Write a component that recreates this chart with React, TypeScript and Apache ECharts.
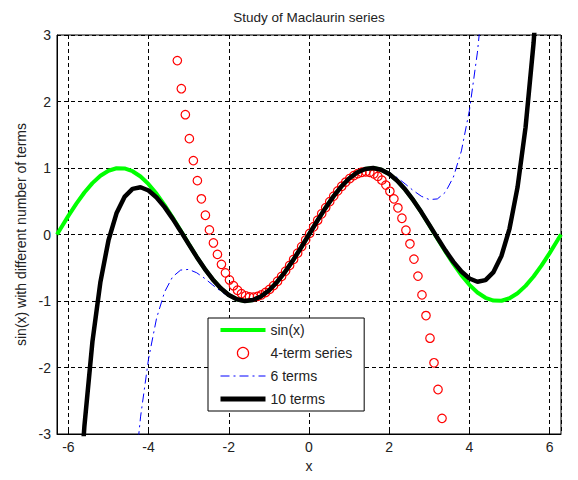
import { useEffect, useRef } from "react";
import * as echarts from "echarts";

const TITLE = "Study of Maclaurin series";
const X_LABEL = "x";
const Y_LABEL = "sin(x) with different number of terms";
const NAMES = ["sin(x)", "4-term series", "6 terms", "10 terms"];

// sin(x)
const xSin = [
  -6.2832, -6.2, -6.0, -5.8, -5.6, -5.4, -5.2, -5.0, -4.8, -4.6, -4.4, -4.2, -4.0, -3.8, -3.6, -3.4,
  -3.2, -3.0, -2.8, -2.6, -2.4, -2.2, -2.0, -1.8, -1.6, -1.4, -1.2, -1.0, -0.8, -0.6, -0.4, -0.2,
  0, 0.2, 0.4, 0.6, 0.8, 1.0, 1.2, 1.4, 1.6, 1.8, 2.0, 2.2, 2.4, 2.6, 2.8, 3.0,
  3.2, 3.4, 3.6, 3.8, 4.0, 4.2, 4.4, 4.6, 4.8, 5.0, 5.2, 5.4, 5.6, 5.8, 6.0, 6.2, 6.2832,
];
const ySin = [
  0, 0.0831, 0.2794, 0.4646, 0.6313, 0.7728, 0.8835, 0.9589, 0.9962, 0.9937, 0.9516, 0.8716, 0.7568, 0.6119, 0.4425, 0.2555,
  0.0584, -0.1411, -0.335, -0.5155, -0.6755, -0.8085, -0.9093, -0.9738, -0.9996, -0.9854, -0.932, -0.8415, -0.7174, -0.5646, -0.3894, -0.1987,
  0, 0.1987, 0.3894, 0.5646, 0.7174, 0.8415, 0.932, 0.9854, 0.9996, 0.9738, 0.9093, 0.8085, 0.6755, 0.5155, 0.335, 0.1411,
  -0.0584, -0.2555, -0.4425, -0.6119, -0.7568, -0.8716, -0.9516, -0.9937, -0.9962, -0.9589, -0.8835, -0.7728, -0.6313, -0.4646, -0.2794, -0.0831, 0,
];

// 4-term series (circles)
const x4 = [
  -3.2832, -3.1832, -3.0832, -2.9832, -2.8832, -2.7832, -2.6832, -2.5832, -2.4832, -2.3832, -2.2832, -2.1832,
  -2.0832, -1.9832, -1.8832, -1.7832, -1.6832, -1.5832, -1.4832, -1.3832, -1.2832, -1.1832, -1.0832, -0.9832,
  -0.8832, -0.7832, -0.6832, -0.5832, -0.4832, -0.3832, -0.2832, -0.1832, -0.0832, 0.0168, 0.1168, 0.2168,
  0.3168, 0.4168, 0.5168, 0.6168, 0.7168, 0.8168, 0.9168, 1.0168, 1.1168, 1.2168, 1.3168, 1.4168,
  1.5168, 1.6168, 1.7168, 1.8168, 1.9168, 2.0168, 2.1168, 2.2168, 2.3168, 2.4168, 2.5168, 2.6168,
  2.7168, 2.8168, 2.9168, 3.0168, 3.1168, 3.2168, 3.3168,
];
const y4 = [
  2.6153, 2.1926, 1.8017, 1.4416, 1.1114, 0.81, 0.5365, 0.2897, 0.0688, -0.1272, -0.2995, -0.4489,
  -0.5764, -0.6832, -0.7701, -0.8382, -0.8884, -0.9218, -0.9394, -0.9421, -0.931, -0.9071, -0.8714, -0.8248,
  -0.7684, -0.7031, -0.6301, -0.5501, -0.4644, -0.3738, -0.2794, -0.1822, -0.0831, 0.0168, 0.1165, 0.2151,
  0.3115, 0.4047, 0.4938, 0.5777, 0.6554, 0.726, 0.7884, 0.8416, 0.8847, 0.9165, 0.9363, 0.9428,
  0.9352, 0.9124, 0.8734, 0.8173, 0.743, 0.6496, 0.536, 0.4012, 0.2442, 0.0641, -0.1402, -0.3697,
  -0.6253, -0.9081, -1.2191, -1.5592, -1.9295, -2.331, -2.7647,
];

// 6 terms (dash-dot)
const x6 = [
  -4.4, -4.2, -4.0, -3.8, -3.6, -3.4, -3.2, -3.0, -2.8, -2.6, -2.4, -2.2, -2.0, -1.8, -1.6,
  -1.4, -1.2, -1.0, -0.8, -0.6, -0.4, -0.2, 0, 0.2, 0.4, 0.6, 0.8, 1.0, 1.2, 1.4,
  1.6, 1.8, 2.0, 2.2, 2.4, 2.6, 2.8, 3.0, 3.2, 3.4, 3.6, 3.8, 4.0, 4.2, 4.4,
];
const y6 = [
  -3.9457, -2.7429, -1.8667, -1.2576, -0.8629, -0.6356, -0.5349, -0.525, -0.5755, -0.6608, -0.7596, -0.8548, -0.9333, -0.9855, -1.0047,
  -0.9875, -0.9327, -0.8417, -0.7174, -0.5646, -0.3894, -0.1987, 0, 0.1987, 0.3894, 0.5646, 0.7174, 0.8417, 0.9327, 0.9875,
  1.0047, 0.9855, 0.9333, 0.8548, 0.7596, 0.6608, 0.5755, 0.525, 0.5349, 0.6356, 0.8629, 1.2576, 1.8667, 2.7429, 3.9457,
];

// 10 terms (thick black)
const x10 = [
  -5.8, -5.6, -5.4, -5.2, -5.0, -4.8, -4.6, -4.4, -4.2, -4.0, -3.8, -3.6, -3.4, -3.2, -3.0,
  -2.8, -2.6, -2.4, -2.2, -2.0, -1.8, -1.6, -1.4, -1.2, -1.0, -0.8, -0.6, -0.4, -0.2, 0,
  0.2, 0.4, 0.6, 0.8, 1.0, 1.2, 1.4, 1.6, 1.8, 2.0, 2.2, 2.4, 2.6, 2.8, 3.0,
  3.2, 3.4, 3.6, 3.8, 4.0, 4.2, 4.4, 4.6, 4.8, 5.0, 5.2, 5.4, 5.6, 5.8,
];
const y10 = [
  -4.6372, -2.8827, -1.613, -0.7114, -0.0896, 0.3191, 0.565, 0.6858, 0.7106, 0.6617, 0.5573, 0.4121, 0.2392, 0.0499, -0.1453,
  -0.337, -0.5164, -0.6758, -0.8086, -0.9093, -0.9739, -0.9996, -0.9855, -0.932, -0.8415, -0.7174, -0.5646, -0.3894, -0.1987, 0,
  0.1987, 0.3894, 0.5646, 0.7174, 0.8415, 0.932, 0.9855, 0.9996, 0.9739, 0.9093, 0.8086, 0.6758, 0.5164, 0.337, 0.1453,
  -0.0499, -0.2392, -0.4121, -0.5573, -0.6617, -0.7106, -0.6858, -0.565, -0.3191, 0.0896, 0.7114, 1.613, 2.8827, 4.6372,
];

const X_MIN = -6.2832;
const X_MAX = 6.2832;
const Y_MIN = -3;
const Y_MAX = 3;

const pairs = (xs: number[], ys: number[]) => xs.map((x, i) => [x, ys[i]]);
const FONT = "'Liberation Sans', Arial, Helvetica, sans-serif";
const TXT = "#222";

export default function App() {
  const ref = useRef<HTMLDivElement>(null);
  useEffect(() => {
    if (!ref.current) return;
    const chart = echarts.init(ref.current, undefined, { renderer: "svg" });
    const intLabel = (v: number) => (Math.abs(v - Math.round(v)) < 1e-6 ? String(Math.round(v)) : "");
    chart.setOption({
      animation: false,
      backgroundColor: "#fff",
      textStyle: { fontFamily: FONT },
      graphic: [
        {
          type: "text",
          x: 309,
          y: 17,
          style: { text: TITLE, fill: TXT, font: `13.5px ${FONT}`, align: "center", verticalAlign: "middle" },
        },
      ],
      grid: { left: 57, top: 35, right: 17, bottom: 46, show: true, borderColor: "#000", borderWidth: 1, backgroundColor: "#fff" },
      xAxis: {
        type: "value",
        min: X_MIN,
        max: X_MAX,
        splitNumber: 6,
        name: X_LABEL,
        nameLocation: "middle",
        nameGap: 25,
        nameTextStyle: { fontSize: 14, color: TXT, fontFamily: FONT },
        axisLine: { show: true, onZero: false, lineStyle: { color: "#000", width: 1 } },
        axisTick: { show: true, inside: true, length: 4, lineStyle: { color: "#000" } },
        axisLabel: { fontSize: 14, color: TXT, margin: 6, formatter: intLabel, showMinLabel: false, showMaxLabel: false },
        splitLine: { show: true, lineStyle: { color: "#000", type: [4, 3], width: 1 } },
      },
      yAxis: {
        type: "value",
        min: Y_MIN,
        max: Y_MAX,
        interval: 1,
        name: Y_LABEL,
        nameLocation: "middle",
        nameGap: 28,
        nameTextStyle: { fontSize: 14, color: TXT, fontFamily: FONT },
        axisLine: { show: true, onZero: false, lineStyle: { color: "#000", width: 1 } },
        axisTick: { show: true, inside: true, length: 4, lineStyle: { color: "#000" } },
        axisLabel: { fontSize: 14, color: TXT, margin: 6 },
        splitLine: { show: true, lineStyle: { color: "#000", type: [4, 3], width: 1 } },
      },
      legend: {
        orient: "vertical",
        left: 208,
        top: 318,
        padding: [5, 12, 5, 10],
        itemWidth: 45,
        itemHeight: 14,
        itemGap: 9,
        backgroundColor: "#fff",
        borderColor: "#000",
        borderWidth: 1,
        textStyle: { fontSize: 14, color: TXT, fontFamily: FONT },
        data: [
          { name: NAMES[0], lineStyle: { width: 4 }, itemStyle: { opacity: 0 } },
          { name: NAMES[1], itemStyle: { borderWidth: 1.2 } },
          { name: NAMES[2], lineStyle: { width: 1 }, itemStyle: { opacity: 0 } },
          { name: NAMES[3], lineStyle: { width: 5 }, itemStyle: { opacity: 0 } },
        ],
      },
      series: [
        {
          name: NAMES[0],
          type: "line",
          data: pairs(xSin, ySin),
          symbol: "none",
          color: "#00ff00",
          lineStyle: { color: "#00ff00", width: 4 },
          clip: true,
          z: 2,
        },
        {
          name: NAMES[1],
          type: "line",
          data: pairs(x4, y4),
          symbol: "circle",
          symbolSize: 8.5,
          showSymbol: true,
          lineStyle: { width: 0, opacity: 0 },
          itemStyle: { color: "rgba(255,0,0,0)", borderColor: "#ff0000", borderWidth: 1.2 },
          clip: true,
          z: 3,
        },
        {
          name: NAMES[2],
          type: "line",
          data: pairs(x6, y6),
          symbol: "none",
          color: "#0000ff",
          lineStyle: { color: "#0000ff", width: 1, type: [9, 4, 2, 4] },
          clip: true,
          z: 4,
        },
        {
          name: NAMES[3],
          type: "line",
          data: pairs(x10, y10),
          symbol: "none",
          color: "#000000",
          lineStyle: { color: "#000000", width: 4.5 },
          clip: true,
          z: 5,
        },
      ],
    });
    return () => chart.dispose();
  }, []);
  return <div ref={ref} style={{ position: "fixed", left: 0, top: 0, width: 578, height: 480 }} />;
}
